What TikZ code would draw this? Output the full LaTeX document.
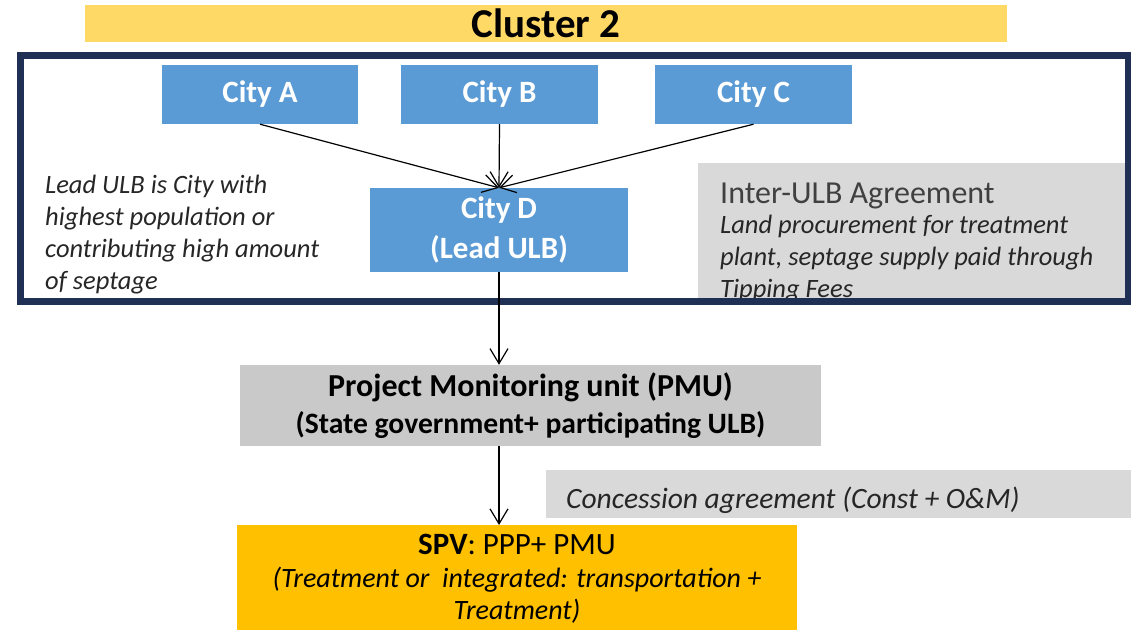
\documentclass[tikz,border=0pt]{standalone}
\usepackage{fontspec}
\setmainfont{Carlito}
\usetikzlibrary{arrows.meta}
\definecolor{banner}{HTML}{FFD966}
\definecolor{cityblue}{HTML}{5B9BD5}
\definecolor{navy}{HTML}{1F3054}
\definecolor{agreegray}{HTML}{D9D9D9}
\definecolor{pmugray}{HTML}{C9C9C9}
\definecolor{spvgold}{HTML}{FFC000}
\definecolor{headgray}{HTML}{404040}
\definecolor{notetext}{HTML}{262626}
\tikzset{
  citybox/.style={fill=cityblue, text=white, font=\fontsize{31}{40}\selectfont\bfseries,
    inner sep=0pt, align=center},
  flow/.style={draw=black, line width=1.2pt, -{Straight Barb[length=15pt,width=18pt,line width=1.2pt]}},
  note/.style={font=\fontsize{26.5}{32}\selectfont\itshape, text=notetext, align=left,
    anchor=north west, inner sep=0pt},
}
\begin{document}
\begin{tikzpicture}[x=1pt,y=-1pt]
\useasboundingbox (0,0) rectangle (1131,629);
% title banner
\node[fill=banner, minimum width=922pt, minimum height=37pt, inner sep=0pt,
  font=\fontsize{41}{44}\selectfont\bfseries] (title) at (546,23.5) {Cluster 2};
% agreement box, partly hidden under the frame
\fill[agreegray] (698,163) rectangle (1128,300);
\node[anchor=base west, inner sep=0pt, text=headgray, font=\fontsize{32}{36}\selectfont]
  (iulb) at (720,203) {Inter-ULB Agreement};
\begin{scope}
  \clip (698,163) rectangle (1128,300);
  \node[note] (iulbtext) at (720,214.5) {Land procurement for treatment\\plant, septage supply paid through\\Tipping Fees};
\end{scope}
% member cities
\node[citybox, minimum width=196pt, minimum height=59pt] (A) at (260,94.5) {City A};
\node[citybox, minimum width=197pt, minimum height=59pt] (B) at (499.5,94.5) {City B};
\node[citybox, minimum width=197pt, minimum height=59pt] (C) at (753.5,94.5) {City C};
\node[citybox, minimum width=258pt, minimum height=84pt] (D) at (499,230) {City D\\(Lead ULB)};
% lead note
\node[note] (lead) at (45,175) {Lead ULB is City with\\highest population or\\contributing high amount\\of septage};
% cluster frame
\draw[navy, line width=7pt] (20.5,55) rectangle (1128.5,301.5);
% lower chain
\node[fill=pmugray, minimum width=581pt, minimum height=81pt, inner sep=0pt, align=center,
  font=\fontsize{32}{37}\selectfont\bfseries] (PMU) at (530.5,405.5)
  {Project Monitoring unit (PMU)\\{\fontsize{29.6}{37}\selectfont(State government+ participating ULB)}};
\node[fill=agreegray, minimum width=586pt, minimum height=48pt, inner sep=0pt,
  anchor=west] (conc) at (546,494) {};
\node[anchor=base west, inner sep=0pt, font=\fontsize{29.5}{34}\selectfont\itshape, text=notetext]
  (conctext) at (566,508) {Concession agreement (Const + O\&M)};
\node[fill=spvgold, minimum width=560pt, minimum height=108pt, inner sep=0pt, align=center,
  anchor=north, font=\fontsize{28}{32.5}\selectfont] (SPV) at (517,525)
  {{\fontsize{31}{32.5}\selectfont\textbf{SPV}: PPP+ PMU}\\\itshape (Treatment or \ integrated: transportation +\\\itshape Treatment)};
% connectors
\draw[flow] (A.south) -- (D.north);
\draw[flow] (B.south) -- (D.north);
\draw[flow] (C.south) -- (D.north);
\draw[flow] (D.south) -- (PMU.north -| D.south);
\draw[flow] (PMU.south -| D.south) -- (SPV.north -| D.south);
\end{tikzpicture}
\end{document}
